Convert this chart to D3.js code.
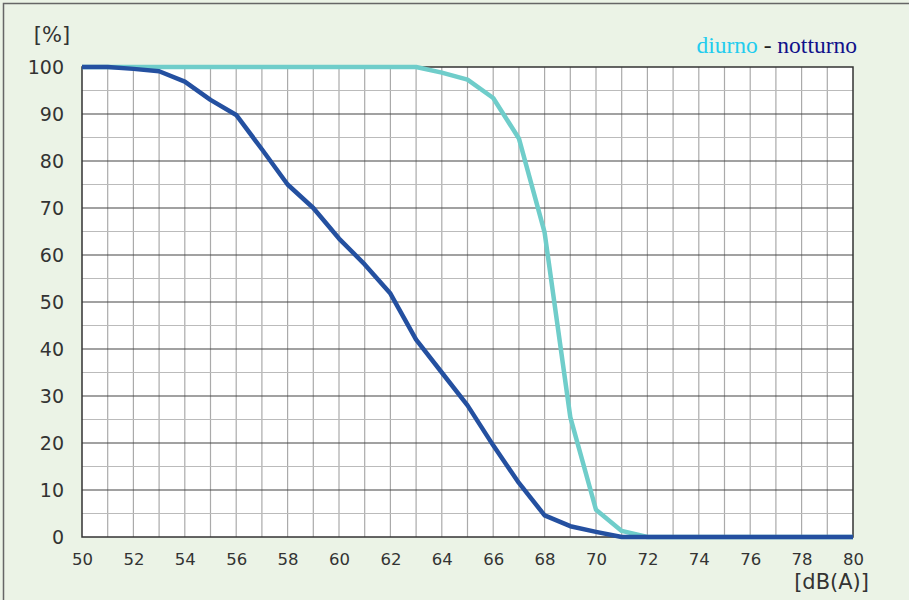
<!DOCTYPE html>
<html>
<head>
<meta charset="utf-8">
<script src="https://cdn.jsdelivr.net/npm/d3@7"></script>
<style>
  body { margin: 0; background: #fff; }
  svg { display: block; }
</style>
</head>
<body>
<div id="chart"></div>
<script>
// Data
const levels = d3.range(50, 81);
const diurno = [100, 100, 100, 100, 100, 100, 100, 100, 100, 100, 100, 100, 100, 100, 98.8, 97.3, 93.4, 84.8, 64.8, 25.5, 5.8, 1.3, 0, 0, 0, 0, 0, 0, 0, 0, 0];
const notturno = [100, 100, 99.6, 99.1, 96.9, 93, 89.8, 82.5, 75, 70, 63.5, 58, 51.8, 42, 35, 28, 19.5, 11.5, 4.6, 2.3, 1.1, 0, 0, 0, 0, 0, 0, 0, 0, 0, 0];
const xTicks = d3.range(50, 81, 2);
const yTicks = d3.range(0, 101, 10);

const W = 909, H = 600;
const margin = { top: 67, right: 56, bottom: 63, left: 82 };
const innerW = W - margin.left - margin.right;
const innerH = H - margin.top - margin.bottom;

const svg = d3.select('#chart').append('svg')
  .attr('width', W)
  .attr('height', H);

svg.append('rect')
  .attr('width', W).attr('height', H)
  .attr('fill', '#ebf3e6');

// figure border (left and top)
svg.append('path')
  .attr('d', `M3.5,${H} V3.5 H${W}`)
  .attr('fill', 'none')
  .attr('stroke', '#666')
  .attr('stroke-width', 1.5);

const x = d3.scaleLinear().domain([50, 80]).range([0, innerW]);
const y = d3.scaleLinear().domain([0, 100]).range([innerH, 0]);

const chart = svg.append('g')
  .attr('transform', `translate(${margin.left}, ${margin.top})`);

chart.append('rect')
  .attr('width', innerW).attr('height', innerH)
  .attr('fill', '#fff');

// vertical grid every 1 dB
chart.append('g')
  .selectAll('line')
  .data(d3.range(51, 80))
  .join('line')
  .attr('x1', d => x(d)).attr('x2', d => x(d))
  .attr('y1', 0).attr('y2', innerH)
  .attr('stroke', '#aaa')
  .attr('stroke-width', 1.2);

// minor horizontal grid every 5
chart.append('g')
  .selectAll('line')
  .data(d3.range(5, 100, 10))
  .join('line')
  .attr('x1', 0).attr('x2', innerW)
  .attr('y1', d => y(d)).attr('y2', d => y(d))
  .attr('stroke', '#bbb')
  .attr('stroke-width', 1.2);

// major horizontal grid every 10
chart.append('g')
  .selectAll('line')
  .data(d3.range(10, 100, 10))
  .join('line')
  .attr('x1', 0).attr('x2', innerW)
  .attr('y1', d => y(d)).attr('y2', d => y(d))
  .attr('stroke', '#444')
  .attr('stroke-width', 1.2);

// frame
chart.append('rect')
  .attr('width', innerW).attr('height', innerH)
  .attr('fill', 'none')
  .attr('stroke', '#333')
  .attr('stroke-width', 1.5);

// Axes
const font = 'DejaVu Sans, Verdana, sans-serif';

const xAxis = chart.append('g')
  .attr('transform', `translate(0, ${innerH})`)
  .call(d3.axisBottom(x).tickValues(xTicks).tickSize(0).tickPadding(16));
xAxis.select('.domain').remove();
xAxis.selectAll('text')
  .attr('fill', '#333')
  .style('font-family', font)
  .style('font-size', '16.5px');

const yAxis = chart.append('g')
  .call(d3.axisLeft(y).tickValues(yTicks).tickSize(0).tickPadding(18));
yAxis.select('.domain').remove();
yAxis.selectAll('text')
  .attr('fill', '#333')
  .attr('dy', '0.36em')
  .style('font-family', font)
  .style('font-size', '19px');

svg.append('text')
  .attr('x', 52).attr('y', 42)
  .attr('text-anchor', 'middle')
  .attr('fill', '#333')
  .style('font-family', font)
  .style('font-size', '21px')
  .text('[%]');

svg.append('text')
  .attr('x', 869).attr('y', 589)
  .attr('text-anchor', 'end')
  .attr('fill', '#333')
  .style('font-family', font)
  .style('font-size', '21px')
  .text('[dB(A)]');

// Lines
const line = d3.line()
  .x((d, i) => x(levels[i]))
  .y(d => y(d));

chart.append('path')
  .datum(diurno)
  .attr('d', line)
  .attr('fill', 'none')
  .attr('stroke', '#6fcdca')
  .attr('stroke-width', 4.5)
  .attr('stroke-linejoin', 'round');

chart.append('path')
  .datum(notturno)
  .attr('d', line)
  .attr('fill', 'none')
  .attr('stroke', '#2450a0')
  .attr('stroke-width', 4.5)
  .attr('stroke-linejoin', 'round');

// Legend
const legend = svg.append('text')
  .attr('x', 857).attr('y', 53)
  .attr('text-anchor', 'end')
  .style('font-family', 'Liberation Serif, Times New Roman, serif')
  .style('font-size', '23.5px');
legend.append('tspan').attr('fill', '#22ccee').text('diurno');
legend.append('tspan').attr('fill', '#222').text(' - ');
legend.append('tspan').attr('fill', '#10108a').text('notturno');
</script>
</body>
</html>
